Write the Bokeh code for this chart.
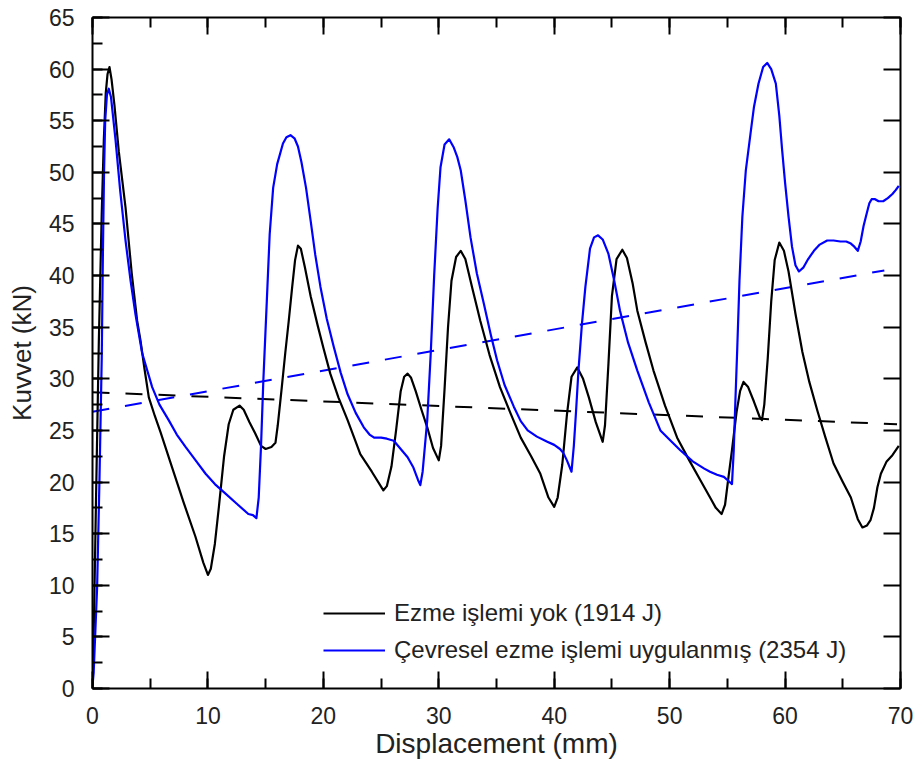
from bokeh.plotting import figure
from bokeh.models import Range1d, LinearAxis, SingleIntervalTicker, Legend, LegendItem
from bokeh.embed import file_html
from bokeh.resources import INLINE

# ---- data ----
black_x = [0, 0.15, 0.3, 0.55, 0.8, 0.98, 1.15, 1.3, 1.47, 1.65, 1.9, 2.28, 2.86, 3.4, 3.87,
           4.16, 4.5, 4.88, 5.4, 5.9, 6.9, 7.9, 8.92, 9.6, 10.0, 10.25, 10.6, 10.95, 11.4,
           11.8, 12.2, 12.74, 13.1, 13.6, 14.1, 14.6, 15.0, 15.5, 15.85, 16.05, 16.4, 16.7,
           17.0, 17.3, 17.55, 17.8, 18.05, 18.4, 18.9, 19.5, 20.0, 20.6, 21.3, 22.1, 22.7,
           23.2, 24.2, 25.2, 25.5, 25.9, 26.3, 26.7, 27.0, 27.3, 27.6, 28.0, 28.5, 29.0,
           29.5, 30.0, 30.2, 30.5, 30.8, 31.1, 31.5, 31.9, 32.3, 32.9, 33.6, 34.4, 35.3,
           36.2, 37.1, 38.0, 38.8, 39.5, 40.0, 40.3, 40.7, 41.1, 41.5, 42.0, 42.5, 43.0,
           43.6, 44.2, 44.4, 44.7, 45.0, 45.4, 45.9, 46.3, 46.8, 47.2, 47.9, 48.6, 49.6,
           50.65, 51.7, 52.7, 53.6, 54.0, 54.5, 54.8, 55.1, 55.4, 55.8, 56.1, 56.4, 56.8,
           57.3, 57.8, 58.0, 58.2, 58.5, 58.8, 59.1, 59.5, 59.9, 60.3, 60.9, 61.5, 62.1,
           62.8, 63.5, 64.2, 65.0, 65.7, 66.3, 66.7, 67.1, 67.4, 67.7, 68.0, 68.3, 68.8,
           69.3, 69.85]
black_y = [0, 8, 18, 33.7, 46, 53.1, 57.7, 59.5, 60.2, 59.0, 56.5, 52, 46.6, 40.2, 35.6,
           33.7, 31, 28.2, 26.4, 24.8, 21.4, 18, 14.7, 12.2, 11.0, 11.6, 14, 17.6, 22.5,
           25.6, 27.0, 27.4, 27.0, 25.8, 24.7, 23.5, 23.2, 23.4, 23.8, 25.5, 29.2, 32.5,
           35.6, 38.9, 41.5, 42.9, 42.6, 40.8, 38.0, 35.2, 33, 30.5, 28.2, 26, 24.2,
           22.7, 21, 19.2, 19.6, 21.5, 25, 28.8, 30.2, 30.5, 30.1, 28.8, 27, 25.3,
           23.3, 22.1, 23.5, 29, 35, 39.5, 41.8, 42.4, 41.6, 38.8, 35.6, 32.3, 29.2,
           26.7, 24.3, 22.5, 20.8, 18.5, 17.6, 18.5, 21.7, 26.5, 30.2, 31.1, 30.0, 28.2,
           25.8, 23.9, 25.5, 31.5, 38, 41.6, 42.5, 41.7, 39.2, 36.6, 33.6, 30.8, 27.4,
           24.3, 22.1, 20.1, 18.3, 17.5, 16.9, 17.8, 20.5, 23.1, 26.8, 28.8, 29.7, 29.2,
           27.8, 26.3, 26.0, 27.5, 32, 37.5, 41.5, 43.2, 42.4, 40.4, 36.3, 32.6, 29.7,
           26.9, 24.3, 21.8, 20.0, 18.5, 16.4, 15.6, 15.8, 16.3, 17.5, 19.5, 20.8, 22,
           22.6, 23.5]

blue_x = [0, 0.1, 0.4, 0.6, 0.8, 0.9, 1.0, 1.1, 1.25, 1.41, 1.6, 2.0, 2.4, 2.86, 3.3, 3.73,
          4.3, 5.17, 5.8, 6.6, 7.3, 8.06, 9.0, 9.8, 10.6, 11.5, 12.5, 13.5, 13.9, 14.2, 14.4,
          14.6, 14.8, 15.1, 15.35, 15.65, 16.0, 16.5, 16.8, 17.15, 17.5, 17.8, 18.1, 18.5,
          18.9, 19.3, 19.75, 20.3, 20.9, 21.5, 22.1, 22.8, 23.5, 24.0, 24.4, 25.0, 25.5,
          26.1, 26.7, 27.3, 27.8, 28.2, 28.4, 28.6, 28.8, 29.0, 29.3, 29.6, 29.9, 30.15,
          30.5, 30.9, 31.3, 31.6, 31.9, 32.3, 32.75, 33.3, 33.9, 34.5, 35.05, 35.7, 36.5,
          37.1, 37.7, 38.5, 39.4, 40.0, 40.5, 40.8, 41.1, 41.5, 41.7, 41.9, 42.1, 42.4,
          42.7, 43.1, 43.45, 43.8, 44.2, 44.7, 45.2, 45.7, 46.4, 47.2, 48.2, 49.2, 50.0,
          50.9, 52.0, 53.0, 53.5, 54.1, 54.7, 55.1, 55.4, 55.55, 55.7, 55.85, 56.05, 56.3,
          56.6, 57.0, 57.3, 57.7, 58.1, 58.45, 58.8, 59.2, 59.5, 59.75, 60.0, 60.3, 60.6,
          60.9, 61.2, 61.6, 62.0, 62.5, 63.0, 63.65, 64.2, 64.8, 65.3, 65.7, 66.0, 66.3,
          66.55, 66.8, 67.0, 67.3, 67.5, 67.8, 68.1, 68.5, 68.9, 69.3, 69.6, 69.85]
blue_y = [0.3, 1.5, 9.8, 20, 32, 42, 50, 55, 57.5, 58.1, 57.3, 53.1, 48.2, 43.4, 39.5, 36.2,
          32.5, 29.2, 27.5, 26, 24.6, 23.4, 22, 20.8, 19.8, 18.9, 17.9, 16.9, 16.8, 16.5, 18.5,
          23.5, 29.8, 37.5, 44, 48.5, 50.8, 52.8, 53.4, 53.6, 53.3, 52.5, 51.0, 48.5,
          45.3, 42, 38.9, 35.8, 33.1, 30.6, 28.5, 26.7, 25.3, 24.6, 24.3, 24.3, 24.2,
          24.0, 23.2, 22.4, 21.4, 20.2, 19.7, 21, 23.5, 26, 32.4, 40, 46.5, 50.5,
          52.7, 53.2, 52.4, 51.5, 50.2, 47.3, 43.7, 40.2, 37.3, 34.3, 31.8, 29.4, 27.3,
          25.9, 25.0, 24.4, 23.9, 23.6, 23.2, 22.8, 22.1, 21.0, 23.5, 27, 30.8, 35.3,
          38.9, 42.6, 43.7, 43.9, 43.5, 42.1, 39.5, 36.6, 33.5, 30.8, 27.7, 25.0, 24.1,
          23.1, 22.0, 21.3, 21.0, 20.7, 20.5, 20.1, 19.8, 23, 28, 32.7, 39.5, 45.7,
          50.2, 53.7, 56.3, 58.6, 60.2, 60.6, 60.0, 58.6, 55.5, 52.1, 49.0, 45.7, 42.8,
          41.0, 40.4, 40.8, 41.6, 42.4, 43.0, 43.4, 43.4, 43.3, 43.3, 43.1, 42.8, 42.4,
          43.3, 44.8, 45.7, 47.0, 47.4, 47.4, 47.2, 47.2, 47.5, 47.9, 48.3, 48.7]

black_trend_x = [0, 69.7]
black_trend_y = [28.7, 25.6]
blue_trend_x = [0, 68.6]
blue_trend_y = [26.8, 40.5]

x_label = "Displacement (mm)"
y_label = "Kuvvet (kN)"
black_name = "Ezme işlemi yok (1914 J)"
blue_name = "Çevresel ezme işlemi uygulanmış (2354 J)"

FONT = "Liberation Sans"
TXT = "#222222"

p = figure(width=915, height=769, output_backend="svg", toolbar_location=None,
           x_range=Range1d(0, 70), y_range=Range1d(0, 65),
           x_axis_location=None, y_axis_location=None,
           min_border_left=92, min_border_right=15, min_border_top=17, min_border_bottom=81)
p.grid.visible = False
p.outline_line_color = None
p.background_fill_color = "white"
p.border_fill_color = "white"


def style(ax, labels=True, minor=True):
    ax.axis_line_width = 2
    ax.axis_line_color = "black"
    ax.major_tick_line_width = 2
    ax.minor_tick_line_width = 2
    ax.major_tick_in = 17
    ax.major_tick_out = 0
    ax.minor_tick_in = 10
    ax.minor_tick_out = 0
    if not minor:
        ax.minor_tick_line_color = None
    if labels:
        ax.major_label_text_font = FONT
        ax.major_label_text_font_size = "23px"
        ax.major_label_text_color = TXT
        ax.major_label_standoff = 18
    else:
        ax.major_label_text_font_size = "0px"
        ax.major_label_text_alpha = 0
        ax.major_label_standoff = 0


xb = LinearAxis(ticker=SingleIntervalTicker(interval=10, num_minor_ticks=2))
style(xb)
xb.axis_label = x_label
xb.axis_label_text_font = FONT
xb.axis_label_text_font_size = "28px"
xb.axis_label_text_font_style = "normal"
xb.axis_label_text_color = TXT
xb.axis_label_standoff = 1
p.add_layout(xb, "below")

xt = LinearAxis(ticker=SingleIntervalTicker(interval=10, num_minor_ticks=2))
style(xt, labels=False)
p.add_layout(xt, "above")

yl = LinearAxis(ticker=SingleIntervalTicker(interval=5, num_minor_ticks=2))
style(yl)
yl.axis_label = y_label
yl.axis_label_text_font = FONT
yl.axis_label_text_font_size = "26px"
yl.axis_label_text_font_style = "normal"
yl.axis_label_text_color = TXT
yl.axis_label_standoff = 9
p.add_layout(yl, "left")

yr = LinearAxis(ticker=SingleIntervalTicker(interval=5, num_minor_ticks=2))
style(yr, labels=False, minor=False)
p.add_layout(yr, "right")

p.line(black_trend_x, black_trend_y, line_color="black", line_width=2, line_dash="17 16")
p.line(blue_trend_x, blue_trend_y, line_color="#0000ff", line_width=2, line_dash="17 16")
rb = p.line(black_x, black_y, line_color="black", line_width=2.2, line_join="round")
rl = p.line(blue_x, blue_y, line_color="#0000ff", line_width=2.2, line_join="round")

legend = Legend(items=[LegendItem(label=black_name, renderers=[rb]),
                       LegendItem(label=blue_name, renderers=[rl])],
                location=(231, 24), padding=0, margin=0,
                border_line_color=None, background_fill_alpha=0,
                glyph_width=62, glyph_height=26, label_height=26, spacing=9,
                label_standoff=9, label_text_font=FONT, label_text_font_size="24px",
                label_text_color=TXT)
p.add_layout(legend)

open("out.html", "w").write(file_html(p, INLINE))
